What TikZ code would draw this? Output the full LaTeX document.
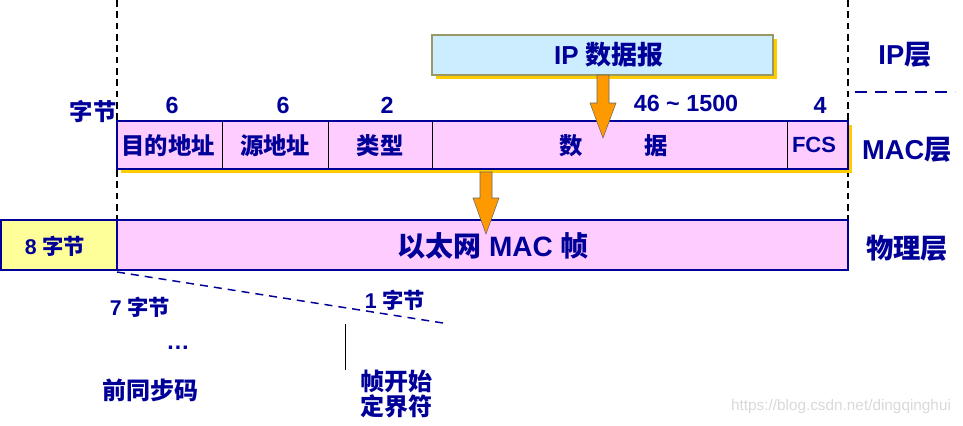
\documentclass[tikz,border=0pt]{standalone}
\usepackage{fontspec}
\setmainfont{Liberation Sans}
\newfontfamily\cjk{Noto Sans CJK SC}
\definecolor{dblue}{HTML}{000099}
\definecolor{pinkf}{HTML}{FFCCFF}
\definecolor{yelf}{HTML}{FFFF99}
\definecolor{bluef}{HTML}{CCECFF}
\definecolor{goldsh}{HTML}{FFCC00}
\definecolor{orangef}{HTML}{FF9900}
\definecolor{olivebd}{HTML}{999966}
\tikzset{
  lbl/.style={text=dblue, inner sep=0pt, font=\bfseries\fontsize{17.5}{20}\selectfont},
  smalllbl/.style={text=dblue, inner sep=0pt, font=\bfseries\fontsize{16}{19}\selectfont},
  biglbl/.style={text=dblue, inner sep=0pt, font=\bfseries\fontsize{20.5}{23}\selectfont},
  cell/.style={fill=pinkf, draw=dblue, line width=0.8pt},
  divider/.style={draw=black, line width=0.6pt},
  layerdash/.style={draw=black, line width=1.2pt, dash pattern=on 5pt off 3.5pt},
  blockarrow/.style={fill=orangef, draw=black!60, line width=0.4pt},
  thickbox/.style={draw=dblue, line width=1.9pt},
}
\begin{document}
\begin{tikzpicture}[x=0.75pt,y=-0.75pt]
\useasboundingbox (0,0) rectangle (963,425);
% vertical layer separators
\coordinate (lt) at (117,0); \coordinate (lb) at (117,220);
\coordinate (rt) at (848,0); \coordinate (rb) at (848,220);
\draw[layerdash] (lt) -- (lb);
\draw[layerdash] (rt) -- (rb);
% IP datagram
\fill[goldsh] (436,39) rectangle (777,79);
\draw[fill=bluef, draw=olivebd, line width=0.8pt] (432,35) rectangle (773,75);
\node[biglbl, font=\bfseries\fontsize{19.5}{22}\selectfont] (ip) at (609,55) {IP {\cjk 数据报}};
% MAC row
\fill[goldsh] (121,125) rectangle (852,173);
\draw[cell] (117,121) rectangle (848,169);
\draw[divider] (222,121) -- (222,169);
\draw[divider] (328,121) -- (328,169);
\draw[divider] (432,121) -- (432,169);
\draw[divider] (787,121) -- (787,169);
\draw[dblue, line width=0.8pt] (117,121) rectangle (848,169);
\node[lbl] (dst) at (168,146) {\cjk 目的地址};
\node[lbl] (src) at (275,146) {\cjk 源地址};
\node[lbl] (typ) at (380,146) {\cjk 类型};
\node[lbl] (d1) at (571,146) {\cjk 数};
\node[lbl] (d2) at (656,146) {\cjk 据};
\node[lbl, font=\bfseries\fontsize{16.5}{19}\selectfont] (fcs) at (814,145) {FCS};
% byte counts
\node[lbl] (bytes) at (93,112) {\cjk 字节};
\node[lbl] (n1) at (172,105) {6};
\node[lbl] (n2) at (283,105) {6};
\node[lbl] (n3) at (387,105) {2};
\node[lbl] (n4) at (686,103) {46 \textasciitilde{} 1500};
\node[lbl] (n5) at (820,105) {4};
% arrow IP -> MAC
\draw[blockarrow] (597,75) -- (609,75) -- (609,103) -- (616,103) -- (603,138) -- (590,103) -- (597,103) -- cycle;
% physical layer
\draw[thickbox, fill=yelf] (1,220) rectangle (117,270);
\draw[thickbox, fill=pinkf] (117,220) rectangle (848,270);
\node[smalllbl] (pre) at (55,246) {8 {\cjk 字节}};
\node[biglbl, font=\bfseries\fontsize{21}{24}\selectfont] (frame) at (493,246) {{\cjk 以太网} MAC {\cjk 帧}};
% arrow MAC -> physical
\draw[blockarrow] (480,172) -- (492,172) -- (492,198) -- (499,198) -- (486,234) -- (473,198) -- (480,198) -- cycle;
% layer names
\node[biglbl] (lip) at (905,55) {IP{\cjk 层}};
\draw[dblue, line width=1.5pt, dash pattern=on 9pt off 6pt] (855,92) -- (955,92);
\node[biglbl] (lmac) at (907,150) {MAC{\cjk 层}};
\node[biglbl] (lphy) at (907,248) {\cjk 物理层};
% preamble detail
\coordinate (ds) at (117,272); \coordinate (de) at (443,323);
\draw[dblue, line width=1.1pt, dash pattern=on 6pt off 4.5pt] (ds) -- (de);
\node[smalllbl] (b7) at (140,307) {7 {\cjk 字节}};
\node[smalllbl] (b1) at (395,300) {1 {\cjk 字节}};
\node[lbl] (dots) at (178,348) {…};
\node[lbl, font=\bfseries\fontsize{18}{21}\selectfont] (pre2) at (150,390) {\cjk 前同步码};
\coordinate (vt) at (345,324); \coordinate (vb) at (345,370);
\draw[black, line width=0.6pt] (vt) -- (vb);
\node[lbl, font=\bfseries\fontsize{18}{16.5}\selectfont, align=center] (sfd) at (396,394) {\cjk 帧开始\\\cjk 定界符};
% watermark
\node[text=black!15, inner sep=0pt, font=\fontsize{11.5}{13}\selectfont] (wm) at (841,407) {https://blog.csdn.net/dingqinghui};
\end{tikzpicture}
\end{document}
